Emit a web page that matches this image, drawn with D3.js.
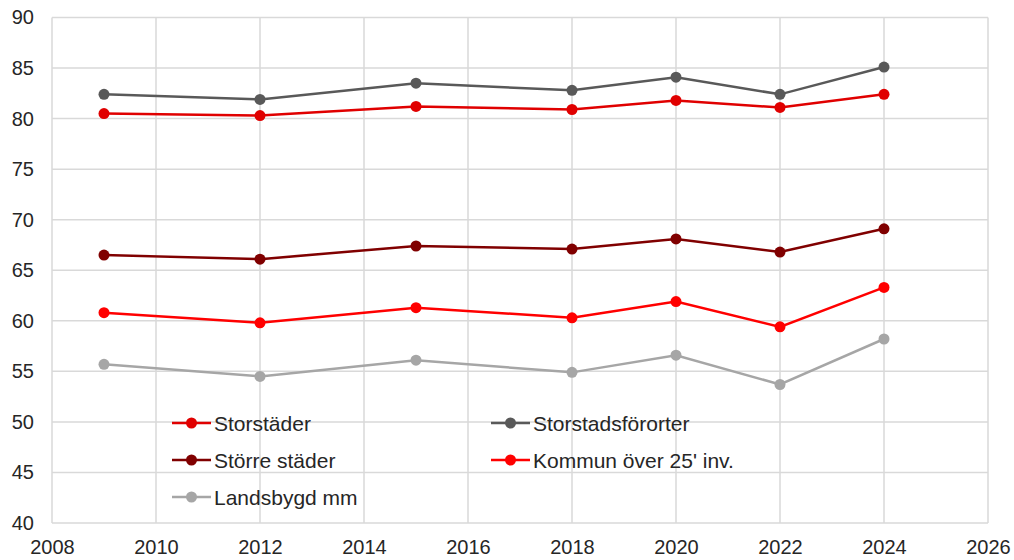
<!DOCTYPE html>
<html>
<head>
<meta charset="utf-8">
<script src="https://cdn.jsdelivr.net/npm/d3@7"></script>
<style>
  body { margin: 0; background: #fff; }
  svg text { font-family: "Liberation Sans", Arial, sans-serif; fill: #262626; }
</style>
</head>
<body>
<svg id="chart" width="1014" height="560"></svg>
<script>
var years = [2009, 2012, 2015, 2018, 2020, 2022, 2024]

var storstader        = [80.5, 80.3, 81.2, 80.9, 81.8, 81.1, 82.4]
var storstadsfororter = [82.4, 81.9, 83.5, 82.8, 84.1, 82.4, 85.1]
var storreStader      = [66.5, 66.1, 67.4, 67.1, 68.1, 66.8, 69.1]
var kommun25          = [60.8, 59.8, 61.3, 60.3, 61.9, 59.4, 63.3]
var landsbygd         = [55.7, 54.5, 56.1, 54.9, 56.6, 53.7, 58.2]

var xTicks = [2008, 2010, 2012, 2014, 2016, 2018, 2020, 2022, 2024, 2026]
var yTicks = [40, 45, 50, 55, 60, 65, 70, 75, 80, 85, 90]

var cRed = "#e00000"
var cGrey = "#595959"
var cDarkRed = "#800000"
var cBright = "#ff0000"
var cLight = "#a6a6a6"

var series = [
	{name: "Landsbygd mm", values: landsbygd, color: cLight},
	{name: "Kommun över 25' inv.", values: kommun25, color: cBright},
	{name: "Större städer", values: storreStader, color: cDarkRed},
	{name: "Storstadsförorter", values: storstadsfororter, color: cGrey},
	{name: "Storstäder", values: storstader, color: cRed}
]

// legend layout: order as in the picture (two columns)
var legendItems = [
	{name: "Storstäder", color: cRed, col: 0, row: 0},
	{name: "Storstadsförorter", color: cGrey, col: 1, row: 0},
	{name: "Större städer", color: cDarkRed, col: 0, row: 1},
	{name: "Kommun över 25' inv.", color: cBright, col: 1, row: 1},
	{name: "Landsbygd mm", color: cLight, col: 0, row: 2}
]

var plotLeft = 52, plotRight = 988, plotTop = 17.5, plotBottom = 523

var x = d3.scaleLinear().domain([2008, 2026]).range([plotLeft, plotRight])
var y = d3.scaleLinear().domain([40, 90]).range([plotBottom, plotTop])

var svg = d3.select("#chart")

// grid
svg.append("g")
	.selectAll("line")
	.data(yTicks)
	.enter()
	.append("line")
	.attr("x1", plotLeft).attr("x2", plotRight)
	.attr("y1", function(d) { return y(d) }).attr("y2", function(d) { return y(d) })
	.attr("stroke", "#d9d9d9").attr("stroke-width", 1.5)

svg.append("g")
	.selectAll("line")
	.data(xTicks)
	.enter()
	.append("line")
	.attr("y1", plotTop).attr("y2", plotBottom)
	.attr("x1", function(d) { return x(d) }).attr("x2", function(d) { return x(d) })
	.attr("stroke", "#d9d9d9").attr("stroke-width", 1.5)

// axis labels
var yAxis = svg.append("g")
	.attr("transform", "translate(" + plotLeft + ",0)")
	.call(d3.axisLeft(y).tickValues(yTicks).tickSize(0).tickPadding(18))
yAxis.select(".domain").remove()
yAxis.selectAll("text").style("font-size", "20px").attr("fill", "#262626")

var xAxis = svg.append("g")
	.attr("transform", "translate(0," + plotBottom + ")")
	.call(d3.axisBottom(x).tickValues(xTicks).tickFormat(d3.format("d")).tickSize(0).tickPadding(17))
xAxis.select(".domain").remove()
xAxis.selectAll("text").style("font-size", "20px").attr("fill", "#262626")

// lines
var line = d3.line()
	.x(function(d, i) { return x(years[i]) })
	.y(function(d) { return y(d) })

series.forEach(function(s) {
	svg.append("path")
		.datum(s.values)
		.attr("d", line)
		.attr("fill", "none")
		.attr("stroke", s.color)
		.attr("stroke-width", 2.5)

	svg.append("g")
		.selectAll("circle")
		.data(s.values)
		.enter()
		.append("circle")
		.attr("cx", function(d, i) { return x(years[i]) })
		.attr("cy", function(d) { return y(d) })
		.attr("r", 5.5)
		.attr("fill", s.color)
})

// legend
var colX = [172, 491]
var rowY = [423, 460, 497]

var leg = svg.append("g")
	.selectAll("g")
	.data(legendItems)
	.enter()
	.append("g")
	.attr("transform", function(d) { return "translate(" + colX[d.col] + "," + rowY[d.row] + ")" })

leg.append("line")
	.attr("x1", 0).attr("x2", 39)
	.attr("y1", 0).attr("y2", 0)
	.attr("stroke", function(d) { return d.color })
	.attr("stroke-width", 2.5)

leg.append("circle")
	.attr("cx", 19.5).attr("cy", 0).attr("r", 5.5)
	.attr("fill", function(d) { return d.color })

leg.append("text")
	.attr("x", 42)
	.attr("y", 7.5)
	.style("font-size", "21px")
	.text(function(d) { return d.name })
</script>
</body>
</html>
